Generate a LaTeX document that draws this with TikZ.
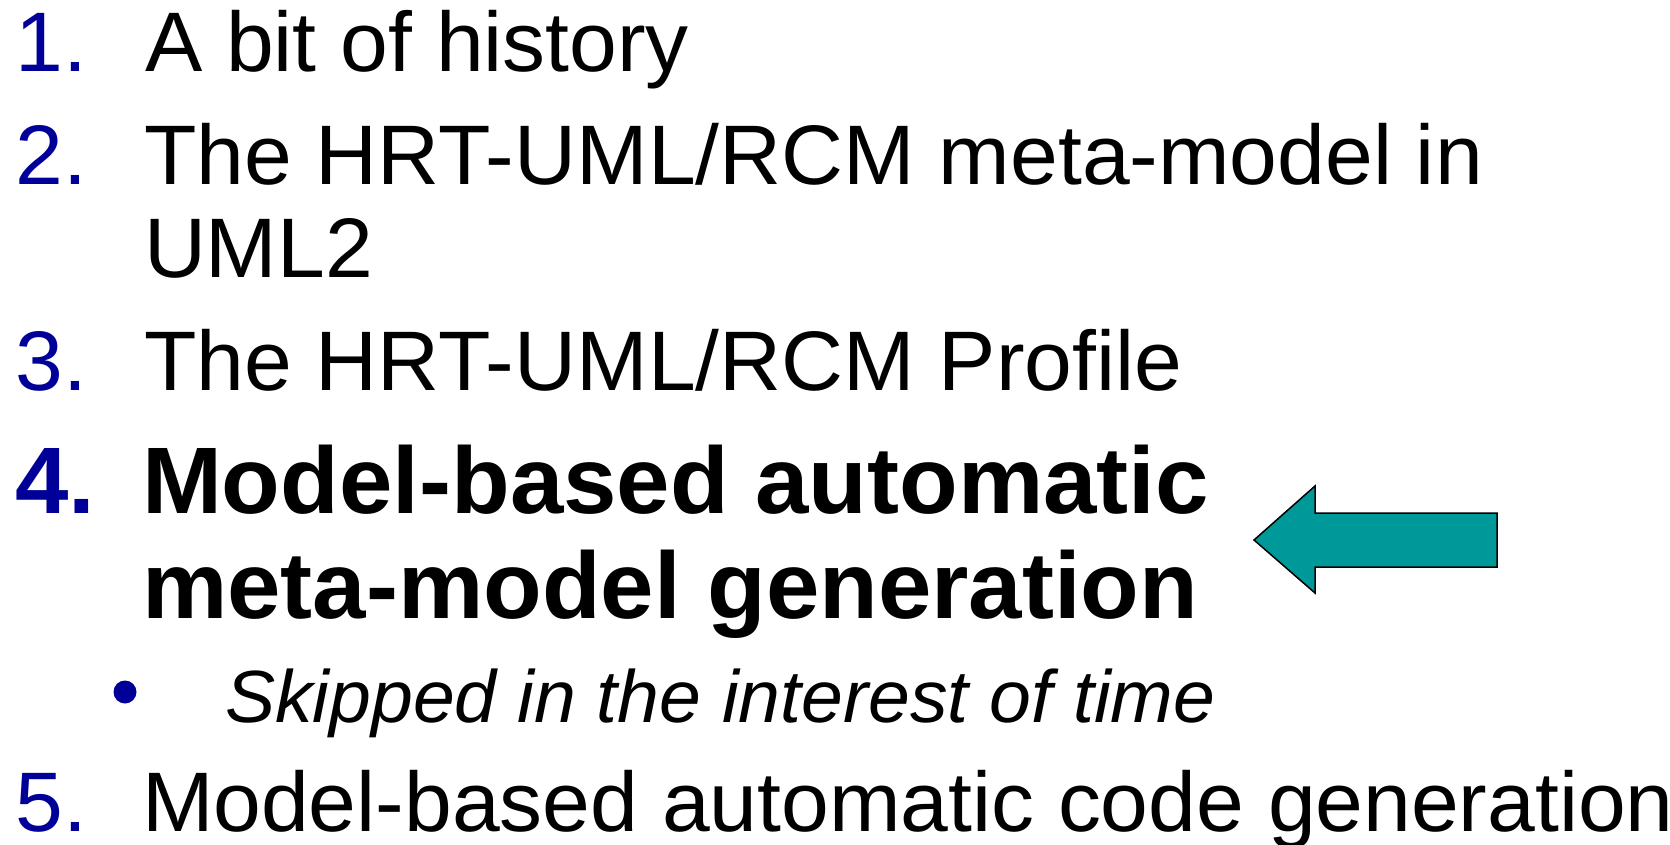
\documentclass[tikz,border=0pt]{standalone}
\usepackage{fontspec}
\setmainfont{Liberation Sans}[FakeStretch=1.016]
\definecolor{numblue}{RGB}{0,0,153}
\definecolor{teal}{RGB}{0,153,153}
\tikzset{
  item/.style={anchor=base west, inner sep=0pt, outer sep=0pt,
    font=\fontsize{84.5}{92}\selectfont},
  num/.style={item, text=numblue},
  bolditem/.style={item, font=\fontsize{94.5}{104}\selectfont\bfseries},
  boldnum/.style={bolditem, text=numblue},
  subitem/.style={item, font=\fontsize{74}{81}\selectfont\itshape},
  dot/.style={circle, fill=numblue, inner sep=0pt, minimum size=23pt},
}
\begin{document}
\begin{tikzpicture}[x=1pt, y=-1pt]
  \useasboundingbox (0,0) rectangle (1670,845);

  % numbered agenda
  \node[num]  (n1) at (16,72)  {1.};
  \node[item] (t1) at (145,72) {A bit of history};

  \node[num]  (n2)  at (16,185)  {2.};
  \node[item] (t2a) at (144,185) {The HRT-UML/RCM meta-model in};
  \node[item] (t2b) at (144,277) {UML2};

  \node[num]  (n3) at (16,390)  {3.};
  \node[item] (t3) at (144,390) {The HRT-UML/RCM Profile};

  \node[boldnum]  (n4)  at (15,513)  {4.};
  \node[bolditem] (t4a) at (142,513) {Model-based automatic};
  \node[bolditem] (t4b) at (142,618) {meta-model generation};

  \node[dot]     (b1) at (125,692) {};
  \node[subitem] (s1) at (225,722) {Skipped in the interest of time};

  \node[num]  (n5) at (16,831)  {5.};
  \node[item] (t5) at (142,831) {Model-based automatic code generation};

  % pointer to the current topic
  \draw[fill=teal, draw=black, line width=1.5pt, line join=miter]
    (1254,540) -- (1315,486) -- (1315,513) -- (1497,513)
    -- (1497,567) -- (1315,567) -- (1315,593) -- cycle;
\end{tikzpicture}
\end{document}
